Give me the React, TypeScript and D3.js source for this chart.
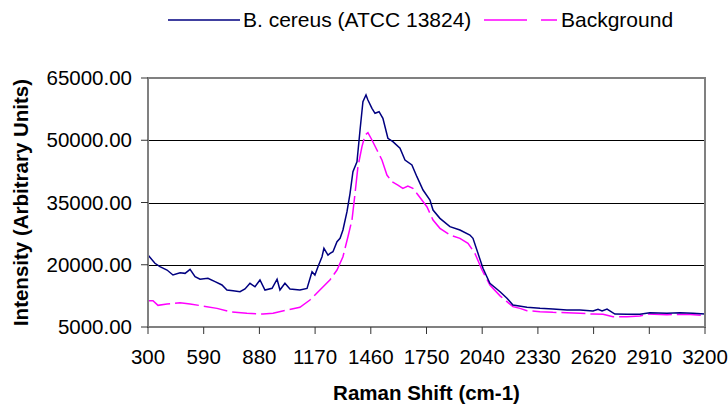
import React from "react";
import * as d3 from "d3";

// B. cereus spectrum (wavenumber, intensity)
const cereusShift = [
  300, 336, 362, 399, 430, 467, 493, 519, 545, 571, 612, 649, 685, 711, 743,
  779, 805, 831, 857, 883, 909, 946, 972, 987, 1013, 1039, 1091, 1128, 1154,
  1169, 1185, 1206, 1216, 1237, 1248, 1263, 1284, 1300, 1315, 1336, 1352, 1367,
  1388, 1404, 1419, 1435, 1445, 1466, 1482, 1503, 1523, 1549, 1575, 1612, 1638,
  1674, 1700, 1732, 1768, 1784, 1820, 1872, 1924, 1976, 1992, 2018, 2044, 2080,
  2133, 2169, 2200, 2273, 2341, 2408, 2481, 2549, 2617, 2643, 2664, 2690, 2731,
  2794, 2861, 2913, 3002, 3070, 3137, 3200,
];
const cereusValue = [
  22340, 20350, 19540, 18730, 17530, 18090, 17930, 18900, 17150, 16510, 16750,
  15930, 15130, 13900, 13740, 13500, 14150, 15530, 14700, 16320, 13900, 14320,
  16510, 13900, 15530, 14150, 13900, 14300, 18330, 17530, 19540, 21950, 23960,
  22340, 22750, 23140, 25550, 26370, 28370, 32780, 37210, 42420, 44830, 52470,
  59290, 60900, 59700, 57690, 56490, 56880, 55290, 50470, 49670, 48060, 45240,
  44040, 41220, 38010, 35600, 33190, 31180, 29170, 28370, 27160, 26370, 22750,
  19140, 15530, 13500, 11910, 10300, 9740, 9490, 9330, 9090, 9090, 8850, 9260,
  8850, 9330, 8130, 8050, 8050, 8450, 8290, 8450, 8290, 8130,
];

// Background spectrum
const bgShift = [
  300, 326, 352, 399, 467, 519, 587, 659, 727, 815, 899, 951, 1023, 1091, 1143,
  1195, 1248, 1284, 1315, 1341, 1362, 1378, 1393, 1414, 1430, 1445, 1466, 1492,
  1518, 1544, 1570, 1601, 1627, 1653, 1679, 1716, 1752, 1784, 1820, 1872, 1924,
  1966, 2002, 2039, 2080, 2133, 2169, 2200, 2237, 2273, 2341, 2408, 2481, 2549,
  2617, 2669, 2721, 2794, 2861, 2903, 3002, 3106, 3200,
];
const bgValue = [
  11330, 11330, 10220, 10540, 10860, 10540, 10050, 9490, 8690, 8290, 8130, 8290,
  9090, 9740, 11500, 13900, 16400, 18730, 21940, 26760, 30780, 37210, 43630,
  48450, 51260, 51820, 50060, 47650, 45240, 41620, 40010, 39210, 38410, 38970,
  38410, 36200, 33990, 30780, 28780, 27160, 26370, 25170, 22750, 18730, 15130,
  12500, 11100, 9900, 9490, 8930, 8690, 8530, 8450, 8290, 8130, 8050, 7490,
  7490, 7650, 8130, 7970, 8050, 7730,
];

const xTicks = d3.range(300, 3201, 290);
const yTicks = [5000, 20000, 35000, 50000, 65000];
const seriesNames = ["B. cereus (ATCC 13824)", "Background"];

export default function App() {
  const width = 728,
    height = 405,
    margin = { top: 78, right: 23, bottom: 78, left: 148 },
    innerWidth = width - margin.left - margin.right,
    innerHeight = height - margin.top - margin.bottom,
    font = "'Liberation Sans', Arial, sans-serif",
    fs = 20.5;

  const x = d3.scaleLinear().domain([300, 3200]).range([0, innerWidth]);
  const y = d3.scaleLinear().domain([5000, 65000]).range([innerHeight, 0]);

  const line = d3
    .line<[number, number]>()
    .x((d) => x(d[0]))
    .y((d) => y(d[1]));

  const cereus = cereusShift.map((s, i) => [s, cereusValue[i]] as [number, number]);
  const bg = bgShift.map((s, i) => [s, bgValue[i]] as [number, number]);

  return (
    <svg
      width={width}
      height={height}
      style={{ position: "absolute", left: 0, top: 0, background: "#fff" }}
      fontFamily={font}
    >
      {/* legend */}
      <g fontSize={21}>
        <line x1={168} x2={240} y1={20} y2={20} stroke="#000080" strokeWidth={1.5} />
        <text x={243} y={27}>{seriesNames[0]}</text>
        <line
          x1={484}
          x2={557}
          y1={20}
          y2={20}
          stroke="#ff00ff"
          strokeWidth={1.5}
          strokeDasharray="43,14"
        />
        <text x={561} y={27}>{seriesNames[1]}</text>
      </g>

      <g transform={`translate(${margin.left},${margin.top})`}>
        <rect width={innerWidth} height={innerHeight} fill="#fff" />
        {yTicks
          .filter((t) => t !== 5000 && t !== 65000)
          .map((t) => (
            <line
              key={t}
              x1={0}
              x2={innerWidth}
              y1={Math.round(y(t)) + 0.5}
              y2={Math.round(y(t)) + 0.5}
              stroke="#000"
              strokeWidth={1}
            />
          ))}

        <path d={line(bg) || ""} fill="none" stroke="#ff00ff" strokeWidth={1.5} strokeDasharray="24,5" />
        <path d={line(cereus) || ""} fill="none" stroke="#000080" strokeWidth={1.5} />

        <rect width={innerWidth} height={innerHeight} fill="none" stroke="#808080" strokeWidth={2} />

        {yTicks.map((t) => (
          <g key={t} transform={`translate(0,${y(t)})`}>
            <line x1={-7} x2={0} stroke="#333" strokeWidth={1} />
            <text x={-16} dy="0.35em" textAnchor="end" fontSize={fs}>
              {t.toFixed(2)}
            </text>
          </g>
        ))}
        {xTicks.map((t) => (
          <g key={t} transform={`translate(${x(t)},${innerHeight})`}>
            <line y1={0} y2={7} stroke="#333" strokeWidth={1} />
            <text y={37} textAnchor="middle" fontSize={fs}>
              {t}
            </text>
          </g>
        ))}

        <text
          x={innerWidth / 2}
          y={innerHeight + 73}
          textAnchor="middle"
          fontSize={fs}
          fontWeight="bold"
        >
          Raman Shift (cm-1)
        </text>
        <text
          transform={`translate(${-120},${innerHeight / 2}) rotate(-90)`}
          textAnchor="middle"
          fontSize={fs}
          fontWeight="bold"
        >
          Intensity (Arbitrary Units)
        </text>
      </g>
    </svg>
  );
}
